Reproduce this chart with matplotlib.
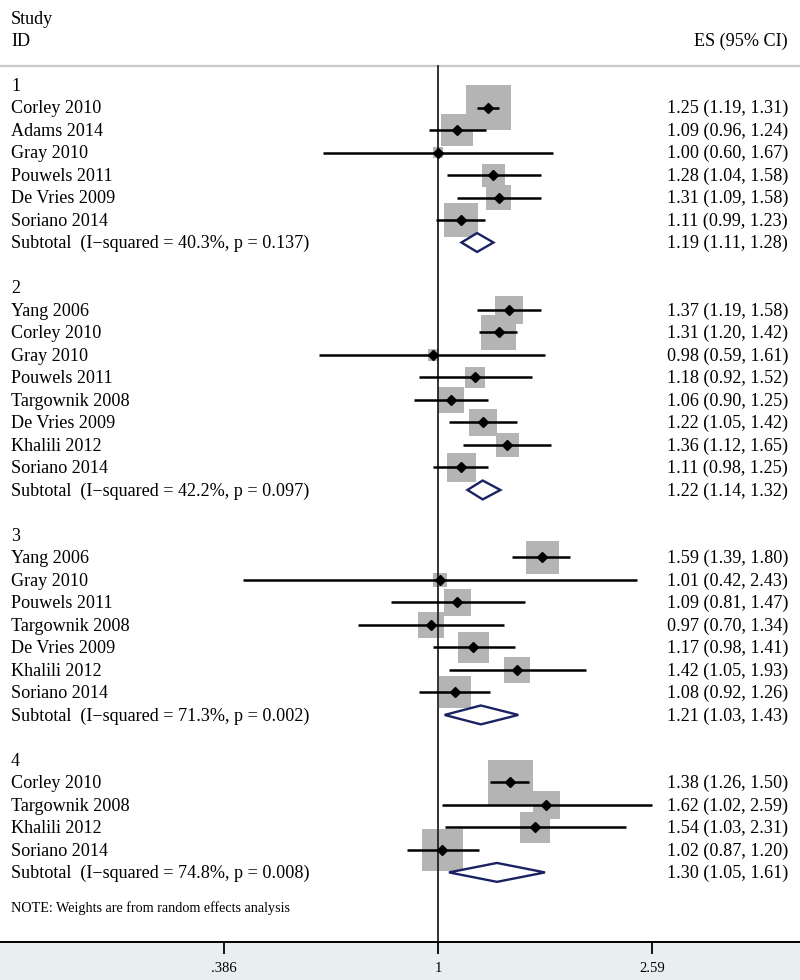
import numpy as np
import matplotlib
matplotlib.use('Agg')
import matplotlib.pyplot as plt
import matplotlib.transforms as mtransforms

# Данные по исследованиям (группа, название, ES, границы ДИ, вес %)
group = [1, 1, 1, 1, 1, 1,
         2, 2, 2, 2, 2, 2, 2, 2,
         3, 3, 3, 3, 3, 3, 3,
         4, 4, 4, 4]
study = ['Corley 2010', 'Adams 2014', 'Gray 2010', 'Pouwels 2011', 'De Vries 2009', 'Soriano 2014',
         'Yang 2006', 'Corley 2010', 'Gray 2010', 'Pouwels 2011', 'Targownik 2008', 'De Vries 2009',
         'Khalili 2012', 'Soriano 2014',
         'Yang 2006', 'Gray 2010', 'Pouwels 2011', 'Targownik 2008', 'De Vries 2009', 'Khalili 2012',
         'Soriano 2014',
         'Corley 2010', 'Targownik 2008', 'Khalili 2012', 'Soriano 2014']
es = [1.25, 1.09, 1.00, 1.28, 1.31, 1.11,
      1.37, 1.31, 0.98, 1.18, 1.06, 1.22, 1.36, 1.11,
      1.59, 1.01, 1.09, 0.97, 1.17, 1.42, 1.08,
      1.38, 1.62, 1.54, 1.02]
lo = [1.19, 0.96, 0.60, 1.04, 1.09, 0.99,
      1.19, 1.20, 0.59, 0.92, 0.90, 1.05, 1.12, 0.98,
      1.39, 0.42, 0.81, 0.70, 0.98, 1.05, 0.92,
      1.26, 1.02, 1.03, 0.87]
hi = [1.31, 1.24, 1.67, 1.58, 1.58, 1.23,
      1.58, 1.42, 1.61, 1.52, 1.25, 1.42, 1.65, 1.25,
      1.80, 2.43, 1.47, 1.34, 1.41, 1.93, 1.26,
      1.50, 2.59, 2.31, 1.20]
weight = [37.5, 19.0, 1.9, 9.8, 11.6, 21.4,
          14.4, 22.2, 2.5, 7.6, 12.5, 14.4, 9.9, 16.5,
          20.3, 3.6, 13.7, 12.8, 17.9, 12.8, 19.1,
          36.6, 14.2, 17.4, 31.9]

# Итоги по подгруппам
sub_i2 = ['40.3%', '42.2%', '71.3%', '74.8%']
sub_p = ['0.137', '0.097', '0.002', '0.008']
sub_es = [1.19, 1.22, 1.21, 1.30]
sub_lo = [1.11, 1.14, 1.03, 1.05]
sub_hi = [1.28, 1.32, 1.43, 1.61]

xticks = [0.386, 1, 2.59]
xticklabels = ['.386', '1', '2.59']

plt.rcParams['font.family'] = ['Liberation Serif', 'DejaVu Serif']
fs = 13.1
band = '#e9eef1'
navy = '#1b2262'

fig = plt.figure(figsize=(8, 9.8), dpi=100, facecolor=band)
ax = fig.add_axes([0, 38.3 / 980, 1, 941.7 / 980])
ax.set_facecolor('white')
ax.set_xscale('log')
ax.set_xlim(0.1423, 5.01)
ax.set_ylim(38.08, -3.78)

# Смешанные координаты: x - доля осей, y - данные
tr = mtransforms.blended_transform_factory(ax.transAxes, ax.transData)
xl, xr = 11 / 800, 788 / 800

ax.text(xl, -2.92, 'Study', transform=tr, fontsize=fs, va='center')
ax.text(xl, -1.95, 'ID', transform=tr, fontsize=fs, va='center')
ax.text(xr, -1.95, 'ES (95% CI)', transform=tr, fontsize=fs, va='center', ha='right')
ax.axhline(-0.84, color='#c8c8c8', lw=1.6, zorder=1)

# Раскладка строк
row = 0
rows = []
sub_rows = []
for g in range(1, 5):
    ax.text(xl, row + 0.05, str(g), transform=tr, fontsize=fs, va='center')
    row += 1
    for i in range(len(study)):
        if group[i] == g:
            rows.append(row)
            row += 1
    sub_rows.append(row)
    row += 2

# Квадраты весов
size = [28.0 * w for w in weight]
ax.scatter(es, rows, s=size, marker='s', color='#b4b4b4', linewidths=0, zorder=2)

for i in range(len(study)):
    y = rows[i]
    ax.plot([lo[i], hi[i]], [y, y], color='black', lw=1.8, solid_capstyle='butt', zorder=4)
    ax.text(xl, y + 0.05, study[i], transform=tr, fontsize=fs, va='center')
    ax.text(xr, y + 0.05, '%.2f (%.2f, %.2f)' % (es[i], lo[i], hi[i]), transform=tr,
            fontsize=fs, va='center', ha='right')
ax.plot(es, rows, linestyle='none', marker='D', ms=5.5, color='black', zorder=5)

# Ромбы подгрупп
for k in range(4):
    y = sub_rows[k]
    ax.fill([sub_lo[k], sub_es[k], sub_hi[k], sub_es[k]], [y, y - 0.42, y, y + 0.42],
            facecolor='white', edgecolor=navy, lw=1.7, zorder=5)
    ax.text(xl, y + 0.05, 'Subtotal  (I\u2212squared = %s, p = %s)' % (sub_i2[k], sub_p[k]),
            transform=tr, fontsize=fs, va='center')
    ax.text(xr, y + 0.05, '%.2f (%.2f, %.2f)' % (sub_es[k], sub_lo[k], sub_hi[k]), transform=tr,
            fontsize=fs, va='center', ha='right')

ax.text(xl, 36.6, 'NOTE: Weights are from random effects analysis', transform=tr,
        fontsize=10.2, va='center')

# Линия отсутствия эффекта
ax.plot([1, 1], [-0.84, 38.08], color='#222222', lw=1.3, zorder=3)

for s in ['top', 'left', 'right']:
    ax.spines[s].set_visible(False)
ax.spines['bottom'].set_linewidth(1.4)
ax.set_yticks([])
ax.set_xticks(xticks)
ax.set_xticklabels(xticklabels)
ax.xaxis.set_minor_locator(matplotlib.ticker.NullLocator())
ax.tick_params(axis='x', length=8.5, width=1.3, pad=6, labelsize=10.5, color='black')

fig.savefig('out.png', dpi=100, facecolor=band)
